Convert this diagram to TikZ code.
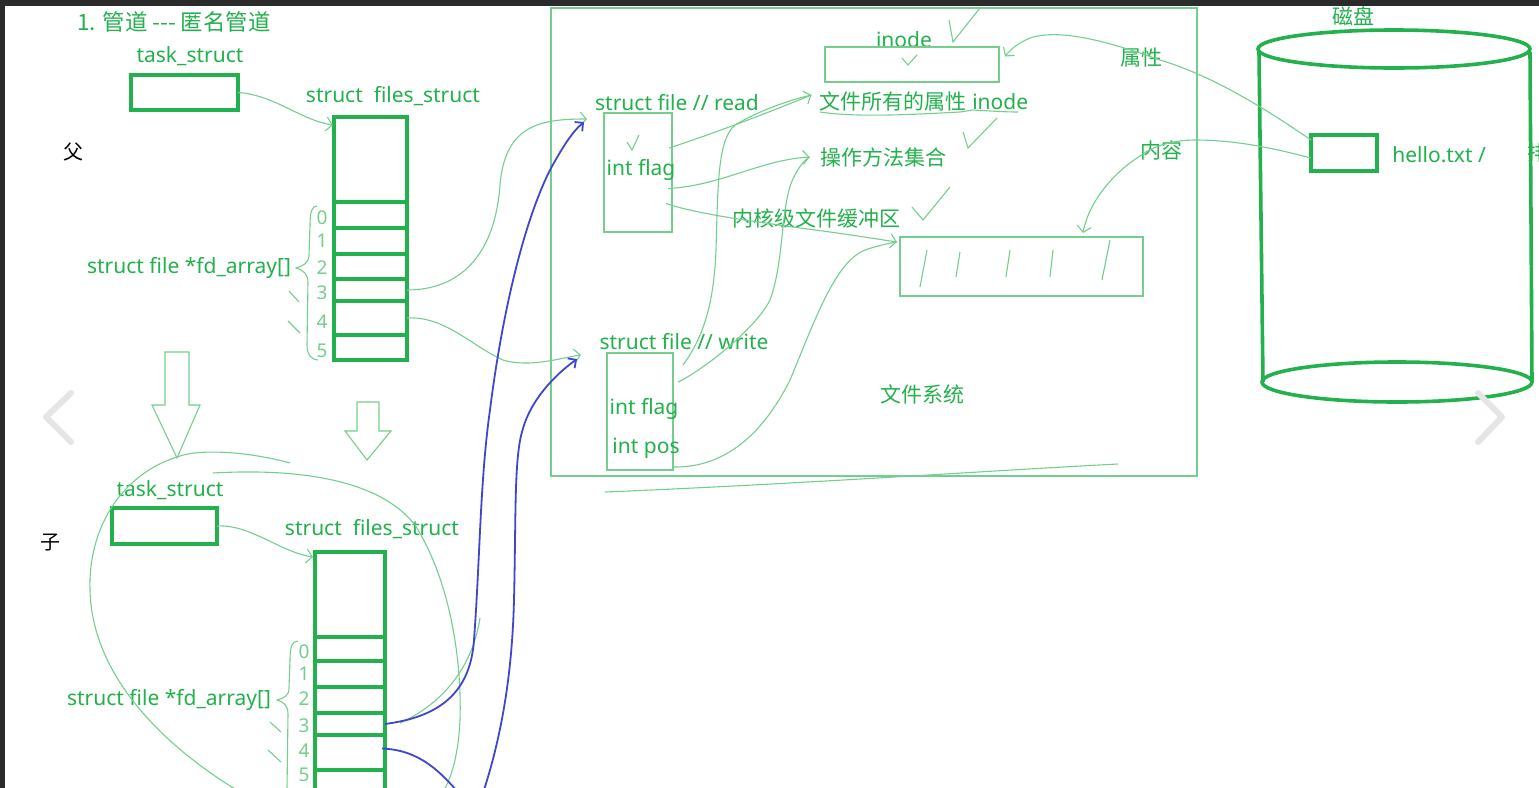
\documentclass[tikz,border=0pt]{standalone}
\usepackage{fontspec}
\setmainfont{Noto Sans}
\newfontfamily\cjk{Noto Sans CJK SC}
\usetikzlibrary{arrows.meta,calc}
\definecolor{gr}{HTML}{22B14C}
\definecolor{lgr}{HTML}{74CF8F}
\definecolor{bl}{HTML}{3F48CC}
\definecolor{dk}{HTML}{2B2B2B}
\tikzset{
 lbl/.style={text=gr, inner sep=0pt, font=\fontsize{10.5}{12}\selectfont},
 clbl/.style={text=gr, inner sep=0pt, font=\cjk\fontsize{10.5}{12}\selectfont},
 blk/.style={text=black, inner sep=0pt, font=\cjk\fontsize{10}{12}\selectfont},
 digit/.style={text=lgr, inner sep=0pt, font=\fontsize{9.5}{10}\selectfont},
 tbox/.style 2 args={draw=gr, line width=2pt, minimum width=#1*0.5pt, minimum height=#2*0.5pt, inner sep=0pt, outer sep=0pt},
 fbox/.style 2 args={draw=lgr, line width=0.7pt, minimum width=#1*0.5pt, minimum height=#2*0.5pt, inner sep=0pt, outer sep=0pt},
 hand/.style={draw=lgr, line width=0.55pt},
 harrow/.style={hand, -{Straight Barb[length=3pt,width=7pt]}},
 bluepen/.style={draw=bl, line width=0.9pt, -{Straight Barb[length=3pt,width=6pt]}},
 chev/.style={draw=black!10, line width=3pt, line cap=round, line join=round},
}
\begin{document}
\begin{tikzpicture}[x=0.5pt,y=-0.5pt]
\useasboundingbox (0,0) rectangle (1539,788);
\begin{scope}
\clip (0,0) rectangle (1539,788);
\fill[white] (0,0) rectangle (1539,788);
\fill[dk] (0,0) rectangle (1539,6);
\fill[dk] (0,0) rectangle (5,788);

% ---------- parent ----------
\node[clbl, font=\cjk\fontsize{11.2}{13}\selectfont] (title) at (174,22) {1. 管道 -{}-{}- 匿名管道};
\node[lbl] (ptaskl) at (190,56) {task\_struct};
\node[tbox={107}{35}] (ptask) at (184.5,92.5) {};
\node[lbl] (pfsl) at (393,96) {struct\ \ files\_struct};
\node[blk] (fu) at (73,152) {父};
\node[tbox={73}{85}] (ptop) at (370.5,159.5) {};
\node[tbox={73}{26}] (pc0) at (370.5,215) {};
\node[tbox={73}{26}] (pc1) at (370.5,241) {};
\node[tbox={73}{25}] (pc2) at (370.5,266.5) {};
\node[tbox={73}{22}] (pc3) at (370.5,290) {};
\node[tbox={73}{34}] (pc4) at (370.5,318) {};
\node[tbox={73}{25}] (pc5) at (370.5,347.5) {};
\node[lbl] (pfd) at (189,268) {struct file *fd\_array[]};
\node[digit] (pd0) at (322,218) {0};
\node[digit] (pd1) at (322,241) {1};
\node[digit] (pd2) at (322,268) {2};
\node[digit] (pd3) at (322,293) {3};
\node[digit] (pd4) at (322,322) {4};
\node[digit] (pd5) at (322,351) {5};
\draw[hand] (317,206) .. controls (312,206) and (310,212) .. (310,225) -- (309,255) .. controls (309,263) and (303,266) .. (296,268) .. controls (303,270) and (308,274) .. (308,282) -- (307,345) .. controls (307,355) and (312,360) .. (318,360);
\draw[hand] (289,291) -- (299,302);
\draw[hand] (288,321) -- (300,333);
\draw[harrow] (ptask.east) .. controls (275,95) and (300,120) .. ($(ptop.north west)+(-1,8)$);

% down arrows
\draw[hand] (165,352) -- (165,405) -- (152,405) -- (177,458) -- (200,405) -- (189,405) -- (189,352) -- cycle;
\draw[hand] (357,402) -- (357,431) -- (345,431) -- (367,460) -- (391,431) -- (379,431) -- (379,402) -- cycle;

% ---------- child ----------
\node[lbl] (ctaskl) at (170,490) {task\_struct};
\node[tbox={105}{36}] (ctask) at (164.5,526) {};
\node[lbl] (cfsl) at (372,529) {struct\ \ files\_struct};
\node[blk] (zi) at (50,543) {子};
\node[tbox={70}{85}] (ctop) at (350,594.5) {};
\node[tbox={70}{24}] (cc0) at (350,649) {};
\node[tbox={70}{26}] (cc1) at (350,674) {};
\node[tbox={70}{26}] (cc2) at (350,700) {};
\node[tbox={70}{22}] (cc3) at (350,724) {};
\node[tbox={70}{35}] (cc4) at (350,752.5) {};
\node[tbox={70}{30}] (cc5) at (350,785) {};
\node[lbl] (cfd) at (169,700) {struct file *fd\_array[]};
\node[digit] (cd0) at (304,652) {0};
\node[digit] (cd1) at (304,674) {1};
\node[digit] (cd2) at (304,699) {2};
\node[digit] (cd3) at (304,726) {3};
\node[digit] (cd4) at (304,751) {4};
\node[digit] (cd5) at (304,775) {5};
\draw[hand] (298,641) .. controls (292,641) and (290,647) .. (290,660) -- (289,688) .. controls (289,696) and (284,698) .. (277,700) .. controls (284,702) and (288,706) .. (288,714) -- (287,790);
\draw[hand] (270,722) -- (281,732);
\draw[hand] (268,750) -- (281,762);
\draw[harrow] (ctask.east) .. controls (250,524) and (280,552) .. ($(ctop.north west)+(-2,5)$);
% blob
\draw[hand] (290,463) .. controls (250,452) and (200,448) .. (177,457) .. controls (120,475) and (88,530) .. (90,590) .. controls (92,680) and (170,750) .. (240,792);
\draw[hand] (213,473) .. controls (300,468) and (380,480) .. (415,525) .. controls (450,580) and (462,660) .. (460,720) .. controls (458,760) and (450,780) .. (443,792);

% ---------- file system ----------
\node[fbox={646}{468}] (fs) at (874,242) {};
\node[lbl] (inodel) at (904,40) {inode};
\node[fbox={174}{35}] (inode) at (912,64.5) {};
\node[lbl] (rdl) at (677,103) {struct file // read};
\node[fbox={68}{119}] (rbox) at (638,172.5) {};
\node[lbl] (rflag) at (641,170) {int flag};
\node[lbl] (attr) at (924,101) {{\cjk 文件所有的属性} inode};
\node[clbl] (ops) at (883,157) {操作方法集合};
\node[clbl] (kbuf) at (816,218) {内核级文件缓冲区};
\node[fbox={243}{59}] (buf) at (1021.5,266.5) {};
\node[lbl] (wrl) at (684,342) {struct file // write};
\node[fbox={66}{117}] (wbox) at (640,411.5) {};
\node[lbl] (wflag) at (644,409) {int flag};
\node[lbl] (wpos) at (646,448) {int pos};
\node[clbl] (fsl) at (922,394) {文件系统};
\node[clbl] (shuxing) at (1141,58) {属性};
\node[clbl] (neirong) at (1161,150) {内容};

% checks
\draw[hand] (627,142) -- (632,150) -- (639,135);
\draw[hand] (902,58) -- (908,65) -- (917,55);
\draw[hand] (949,20) -- (953,42) -- (980,8);
\draw[hand] (963,132) -- (968,148) -- (997,118);
\draw[hand] (912,207) -- (923,220) -- (950,187);
\draw[hand] (820,112) .. controls (860,118) and (920,114) .. (960,112) -- (973,110) .. controls (990,111) and (1005,112) .. (1018,112);
% buffer slashes
\draw[hand] (927,250) -- (920,287);
\draw[hand] (960,252) -- (956,277);
\draw[hand] (1010,250) -- (1006,277);
\draw[hand] (1053,250) -- (1050,277);
\draw[hand] (1110,240) -- (1102,280);
\draw[hand] (605,492) .. controls (800,484) and (1000,470) .. (1118,464);

% connectors parent -> files
\coordinate (rin) at (587,119);
\coordinate (win) at (581,355);
\draw[harrow] (pc3.east) .. controls (460,290) and (495,255) .. (500,185) .. controls (505,125) and (540,119) .. (rin);
\draw[harrow] (pc4.east) .. controls (445,316) and (470,345) .. (503,360) .. controls (530,368) and (560,358) .. (win);
% child -> files (blue)
\draw[hand] (480,618) .. controls (472,670) and (440,705) .. (400,723);
\draw[bluepen] (cc3.east) .. controls (430,718) and (470,700) .. (474,640) .. controls (480,560) and (480,480) .. (490,410) .. controls (500,330) and (520,230) .. (550,170) .. controls (562,148) and (572,132) .. ($(rin)+(-3,3)$);
\draw[bluepen] ($(cc4.east)+(-3,-4)$) .. controls (420,750) and (440,772) .. (458,792) .. controls (468,802) and (478,802) .. (484,790) .. controls (500,740) and (512,680) .. (514,600) .. controls (516,520) and (514,460) .. (522,432) .. controls (530,400) and (555,375) .. ($(win)+(-4,4)$);

% read box connectors
\draw[harrow] ($(rbox.north east)+(-3,35)$) .. controls (700,138) and (750,120) .. ($(attr.west)+(-8,-6)$);
\draw[harrow] ($(rbox.east)+(-4,16)$) .. controls (720,186) and (760,160) .. ($(ops.west)+(-10,0)$);
\draw[harrow] ($(rbox.east)+(-6,31)$) .. controls (700,215) and (760,222) .. (800,228) .. controls (840,233) and (870,238) .. ($(buf.north west)+(-3,5)$);
% write box connectors
\draw[hand] ($(wbox.north east)+(10,12)$) .. controls (705,335) and (714,300) .. (716,250) .. controls (718,180) and (718,140) .. (735,125) .. controls (760,110) and (790,100) .. ($(attr.west)+(-8,-6)$);
\draw[hand] ($(wbox.north east)+(5,29)$) .. controls (700,372) and (755,330) .. (770,300) .. controls (785,260) and (780,200) .. (795,175) .. controls (800,165) and (805,160) .. ($(ops.west)+(-10,0)$);
\draw[hand] ($(wbox.south east)+(0,-3)$) .. controls (720,468) and (760,440) .. (790,380) .. controls (815,320) and (835,262) .. (865,250) .. controls (880,245) and (890,243) .. ($(buf.north west)+(-3,5)$);

% ---------- disk ----------
\node[clbl] (disk) at (1353,16) {磁盘};
\draw[gr, line width=1.8pt] (1394,49) ellipse [x radius=68pt, y radius=9.5pt];
\draw[gr, line width=1.8pt] (1397,382) ellipse [x radius=67.5pt, y radius=10pt];
\draw[gr, line width=1.8pt] (1259,52) -- (1263,382);
\draw[gr, line width=1.8pt] (1530,52) -- (1532,382);
\node[tbox={66}{36}] (hello) at (1344,153) {};
\node[lbl, anchor=west] (hellol) at (1392,155) {hello.txt /};
\node[clbl, anchor=west] (cut) at (1527,153) {排};
\draw[harrow] ($(hello.north west)+(0,5)$) .. controls (1260,105) and (1210,75) .. (1160,60) .. controls (1110,42) and (1060,28) .. (1030,38) .. controls (1018,43) and (1010,50) .. ($(inode.east)+(6,-8)$);
\draw[harrow] ($(hello.west)+(0,5)$) .. controls (1280,150) and (1240,140) .. (1195,140) .. controls (1170,140) and (1150,148) .. (1140,156) .. controls (1110,175) and (1088,205) .. ($(buf.north)+(61.5,-4)$);

% viewer chevrons
\draw[chev] (71,393) -- (46,417) -- (71,442);
\draw[chev] (1478,393) -- (1502,417) -- (1478,442);
\end{scope}
\end{tikzpicture}
\end{document}
